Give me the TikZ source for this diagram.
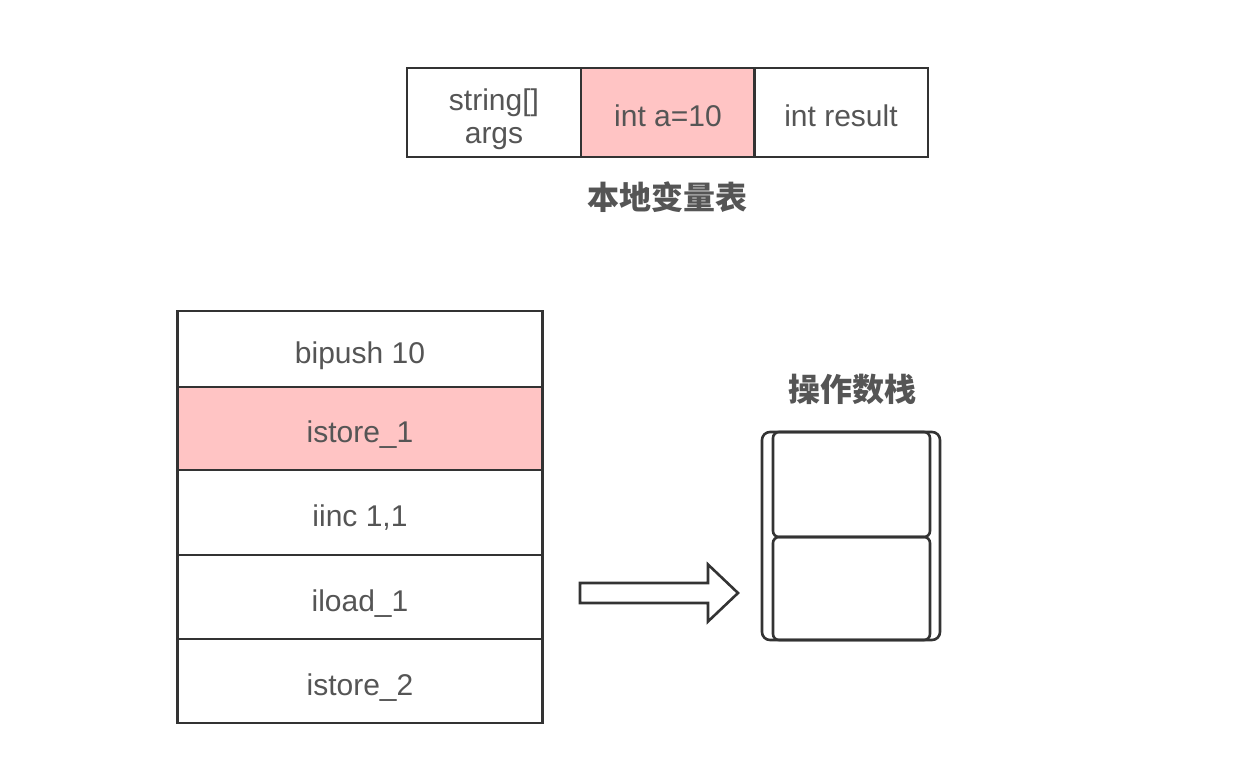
\documentclass[tikz,border=0pt]{standalone}
\usepackage{fontspec}
\setmainfont{Liberation Sans}
\newfontfamily\cjk{Noto Sans CJK SC}
\definecolor{linec}{HTML}{333333}
\definecolor{textc}{HTML}{555555}
\definecolor{pinkc}{HTML}{FFC4C4}
\tikzset{
  cell/.style={draw=linec, line width=2.6pt, text=textc, inner sep=0pt,
    font=\fontsize{30}{33}\selectfont, align=center,
    text height=28pt, text depth=0pt},
  slot/.style={cell, minimum width=174pt, minimum height=89pt},
  op/.style={cell, minimum width=365pt},
  hot/.style={fill=pinkc},
  title/.style={text=textc, font=\cjk\bfseries\fontsize{32}{36}\selectfont},
  box/.style={draw=linec, line width=2.6pt, rounded corners=#1},
  blockarrow/.style={draw=linec, line width=2.6pt, line join=miter}
}
\begin{document}
\begin{tikzpicture}[x=1pt, y=-1pt]
  \useasboundingbox (0,0) rectangle (1260,756);
  % local variable table
  \node[slot, text height=61pt] (v0) at (494,112.5) {string[]\\args};
  \node[slot,hot] (v1) at (668,112.5) {int a=10};
  \node[slot] (v2) at (841,112.5) {int result};
  \node[title] (vt) at (667,197) {本地变量表};
  % instructions
  \node[op, minimum height=76pt] (i0) at (360,349) {bipush 10};
  \node[op, hot, minimum height=83pt] (i1) at (360,428.5) {istore\_1};
  \node[op, minimum height=85pt] (i2) at (360,512.5) {iinc 1,1};
  \node[op, minimum height=84pt] (i3) at (360,597) {iload\_1};
  \node[op, minimum height=84pt] (i4) at (360,681) {istore\_2};
  % operand stack
  \node[title] (st) at (852,389) {操作数栈};
  \node[box=8pt, minimum width=178pt, minimum height=208pt] (stk) at (851,536) {};
  \node[box=6pt, minimum width=157pt, minimum height=105pt] (s0) at (851.5,484.5) {};
  \node[box=6pt, minimum width=157pt, minimum height=103pt] (s1) at (851.5,588.5) {};
  % arrow
  \coordinate (arr) at (580,593);
  \draw[blockarrow] (arr) ++(0,-10) -- ++(128,0) -- ++(0,-18.5) -- ++(30,28.5)
    -- ++(-30,28.5) -- ++(0,-18.5) -- ++(-128,0) -- cycle;
\end{tikzpicture}
\end{document}
